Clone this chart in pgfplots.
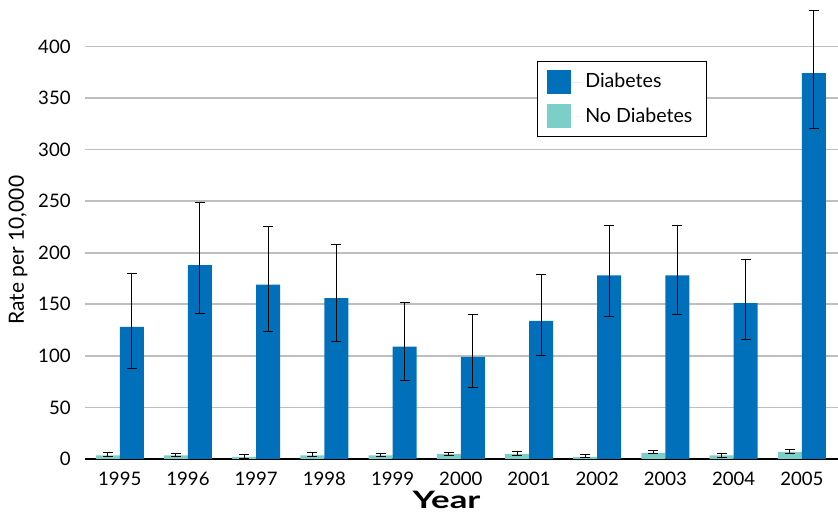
\documentclass[border=0pt]{standalone}
\usepackage{fontspec}
\setmainfont{Lato}
\usepackage{graphicx}
\usepackage{pgfplots}
\usepackage{pgfplotstable}
\pgfplotsset{compat=1.18}
\definecolor{diab}{RGB}{0,112,186}
\definecolor{nodiab}{RGB}{124,206,200}
\definecolor{gridg}{RGB}{190,190,190}
\pgfplotstableread{
x y ep em
0 3.5 2.5 1.5
1 3.5 2.0 1.5
2 2.0 2.0 2.0
3 3.5 2.5 1.5
4 3.5 2.0 1.5
5 5.0 1.5 2.0
6 5.0 2.0 1.5
7 2.0 2.0 1.0
8 6.0 2.4 1.0
9 3.5 2.0 2.0
10 7.0 2.5 1.5
}\nodiab
\pgfplotstableread{
x y ep em
0 128 52 40
1 188 61 47
2 169 56 45
3 156 52 42
4 109 43 33
5 99 41 30
6 134 45 34
7 178 48 40
8 178 48 38
9 151 42 35
10 374 61 54
}\diab
\begin{document}
\fontsize{9}{11}\selectfont
\begin{tikzpicture}
\begin{axis}[
  scale only axis,
  width=376.5pt, height=229.5pt,
  xmin=-0.51, xmax=10.53,
  ymin=0, ymax=445,
  ybar=0pt, bar width=12pt,
  axis x line*=bottom, axis y line*=left,
  x axis line style={black, thick, -},
  y axis line style={draw=none},
  xtick={0,...,10},
  xticklabels={1995,1996,1997,1998,1999,2000,2001,2002,2003,2004,2005},
  xtick style={draw=none},
  ytick={0,50,...,400},
  ymajorgrids, grid style={gridg, line width=0.8pt},
  ytick style={draw=none},
  yticklabel style={xshift=-4pt},
  xticklabel style={yshift=1pt},
  /pgf/number format/assume math mode=true,
  tick label style={font=\fontsize{9.3}{11}\selectfont},
  xlabel={\scalebox{1.45}[1]{\textbf{Year}}},
  xlabel style={at={(axis description cs:0.48,-0.11)}, anchor=south, inner sep=0pt, font=\fontsize{12}{13}\selectfont},
  ylabel={Rate per 10,000},
  ylabel style={at={(axis description cs:-0.0757,0.455)}, anchor=south, inner sep=0pt, font=\fontsize{10.5}{12}\selectfont},
  reverse legend,
  legend style={at={(rel axis cs:0.600,0.867)}, anchor=north west, draw=black, line width=0.5pt,
    font=\fontsize{9.8}{11}\selectfont, row sep=4.5pt, inner xsep=5pt, inner ysep=4pt},
  legend image code/.code={\fill[#1] (0pt,-6pt) rectangle (12pt,6pt); \path (0pt,0pt) -- (17pt,0pt);},
  legend cell align=left,
  error bars/y dir=both, error bars/y explicit,
  error bars/error bar style={black, line width=0.5pt},
  error bars/error mark options={rotate=90, mark size=2.5pt, black, line width=0.5pt},
]
\addplot[fill=nodiab, draw=none] table[x=x, y=y, y error plus=ep, y error minus=em]{\nodiab};
\addlegendentry{No Diabetes}
\addplot[fill=diab, draw=none] table[x=x, y=y, y error plus=ep, y error minus=em]{\diab};
\addlegendentry{Diabetes}
\end{axis}
\pgfresetboundingbox
\path[use as bounding box] ([xshift=-42.5pt,yshift=-26.5pt]current axis.south west) rectangle (current axis.north east);
\end{tikzpicture}
\end{document}
